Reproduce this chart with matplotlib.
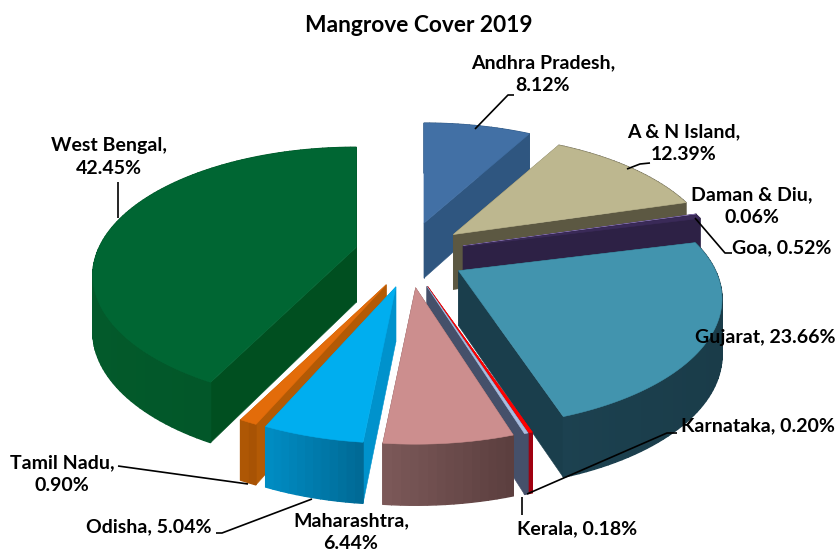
#!/usr/bin/env python3
"""Exploded 3-D pie of mangrove cover by state, 2019."""

import matplotlib

matplotlib.use("Agg")
import matplotlib.pyplot as plt
import numpy as np
from matplotlib.patches import Polygon

STATES = ["Andhra Pradesh", "A & N Island", "Daman & Diu", "Goa", "Gujarat",
          "Karnataka", "Kerala", "Maharashtra", "Odisha", "Tamil Nadu",
          "West Bengal"]
SHARES = [8.12, 12.39, 0.06, 0.52, 23.66, 0.20, 0.18, 6.44, 5.04, 0.90, 42.45]

TOP_COLORS = ["#4270a5", "#bdb78f", "#7d6aa3", "#3a2a58", "#4294ae", "#ff0000",
              "#a9bde0", "#cc8e8e", "#00aeef", "#e36c0a", "#006633"]
CUT_COLORS = ["#2f5680", "#5c5842", "#2d2145", "#2d2145", "#1a3e4c", "#a00010",
              "#45506a", "#6e4a4a", "#0092cc", "#b35a05", "#004f20"]
WALL_LEFT = ["#2f5680", "#5c5842", "#2d2145", "#2d2145", "#1c4150", "#a00010",
             "#45506a", "#7d5a5a", "#008fc6", "#b35a05", "#035a2b"]
WALL_RIGHT = ["#2f5680", "#5c5842", "#2d2145", "#2d2145", "#1a3c49", "#a00010",
              "#45506a", "#5c3f3f", "#006a96", "#a85304", "#005326"]

# painter's order, back of the pie first
DRAW_ORDER = [0, 10, 1, 2, 3, 4, 5, 6, 9, 8, 7]

# projection of the tilted pie, in pixels
CENTER = (410, 255)
RX, RY = 257, 122
PERSP = 0.22
DEPTH = 55
EXPLODE_X, EXPLODE_Y = 0.215, 0.27

FONT = ["Lato", "DejaVu Sans"]
LABEL_SIZE = 14

# text anchors: (x, y, line break after the state name?)
LABELS = {
    "Andhra Pradesh": (543, 74, True),
    "A & N Island": (684, 143, True),
    "Daman & Diu": (752, 206, True),
    "Goa": (782, 248, False),
    "Gujarat": (765, 338, False),
    "Karnataka": (758, 426, False),
    "Kerala": (577, 529, False),
    "Maharashtra": (351, 532, True),
    "Odisha": (149, 527, False),
    "Tamil Nadu": (62, 474, True),
    "West Bengal": (109, 157, True),
}

LEADERS = [
    [(475, 129), (508, 95), (514, 95)],
    [(627, 169), (640, 164), (650, 163)],
    [(695, 218), (725, 253), (732, 253)],
    [(118, 218), (118, 182)],
    [(527, 494), (667, 433), (677, 433)],
    [(522, 497), (522, 515)],
    [(118, 466), (248, 484)],
    [(216, 533), (222, 533), (312, 499)],
]


def rim_point(apex, theta):
    """Screen position of the pie rim at angle theta (clockwise from north)."""
    u, v = np.sin(theta), np.cos(theta)
    s = 1 / (1 + PERSP * v)
    return apex[0] + RX * u * s, apex[1] - RY * v * s


def drop(theta):
    """Screen height of the pie wall at angle theta."""
    return DEPTH / (1 + 0.1 * np.cos(theta))


def extruded(ax, top_a, top_b, h_a, h_b, color, lw=0.4):
    ax.add_patch(Polygon(
        [top_a, top_b, (top_b[0], top_b[1] + h_b), (top_a[0], top_a[1] + h_a)],
        closed=True, facecolor=color, edgecolor=color, lw=lw))


def draw_slice(ax, i, start, end):
    mid = (start + end) / 2
    apex = (CENTER[0] + EXPLODE_X * RX * np.sin(mid),
            CENTER[1] - EXPLODE_Y * RY * np.cos(mid))
    thetas = np.linspace(start, end, max(int(np.degrees(end - start) / 1.5), 1) + 1)
    rim = [rim_point(apex, t) for t in thetas]

    # cut faces, then the curved wall, then the top to hide whatever lies behind
    extruded(ax, apex, rim[0], DEPTH, drop(start), CUT_COLORS[i])
    extruded(ax, apex, rim[-1], DEPTH, drop(end), CUT_COLORS[i])
    left = np.array(matplotlib.colors.to_rgb(WALL_LEFT[i]))
    right = np.array(matplotlib.colors.to_rgb(WALL_RIGHT[i]))
    xs = np.array([p[0] for p in rim])
    span = max(xs.max() - xs.min(), 1)
    for j in range(len(rim) - 1):
        frac = (xs[j] - xs.min()) / span
        # wider edge closes the hairline seams between neighbouring quads
        extruded(ax, rim[j], rim[j + 1], drop(thetas[j]), drop(thetas[j + 1]),
                 tuple(left + (right - left) * frac), lw=1.0)
    ax.add_patch(Polygon([apex] + rim, closed=True, facecolor=TOP_COLORS[i],
                         edgecolor=TOP_COLORS[i], lw=0.4))


def main():
    plt.rcParams["font.family"] = FONT
    fig = plt.figure(figsize=(8.39, 5.50), dpi=100)
    ax = fig.add_axes([0, 0, 1, 1])
    ax.set_xlim(0, 839)
    ax.set_ylim(550, 0)
    ax.axis("off")

    edges = np.radians(np.cumsum([0] + SHARES) / sum(SHARES) * 360)
    for i in DRAW_ORDER:
        draw_slice(ax, i, edges[i], edges[i + 1])

    for line in LEADERS:
        xs, ys = zip(*line)
        ax.plot(xs, ys, color="black", lw=1.2, solid_capstyle="butt")

    for name, share in zip(STATES, SHARES):
        x, y, wrap = LABELS[name]
        sep = ",\n" if wrap else ", "
        ax.text(x, y, f"{name}{sep}{share:.2f}%", ha="center", va="center",
                fontsize=LABEL_SIZE, fontweight="bold", color="black",
                linespacing=1.45, clip_on=False)

    ax.text(419, 26, "Mangrove Cover 2019", ha="center", va="center",
            fontsize=16.4, fontweight="bold", color="black")

    fig.savefig("out.png", dpi=100)
    plt.close(fig)


if __name__ == "__main__":
    main()
